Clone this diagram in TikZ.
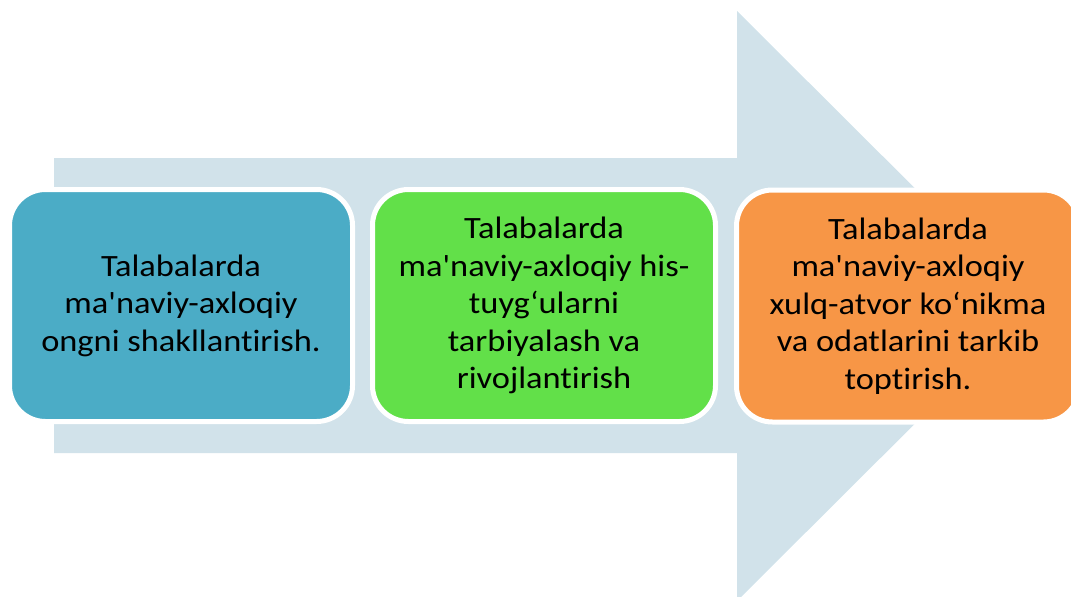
\documentclass[tikz,border=0pt]{standalone}
\usepackage{fontspec}
\newfontfamily\carl{Carlito}[Ligatures=NoCommon, FakeStretch=1.11]
\definecolor{arrowc}{HTML}{D1E2EA}
\definecolor{boxblue}{HTML}{4BACC6}
\definecolor{boxgreen}{HTML}{62E049}
\definecolor{boxorange}{HTML}{F79646}
\tikzset{
  stage/.style={rectangle, rounded corners=36pt, draw=white, line width=5pt,
    minimum width=343pt, minimum height=232pt, align=center,
    font=\carl\fontsize{31}{37.5}\selectfont, text=black, inner sep=0pt}
}
\begin{document}
\begin{tikzpicture}[x=1pt,y=-1pt]
\useasboundingbox (0,0) rectangle (1071,597);
\fill[arrowc] (54,158) -- (737,158) -- (737,11) -- (1033,306) -- (737,601) -- (737,453) -- (54,453) -- cycle;
\node[stage, fill=boxblue] (b1) at (181,305.5) {Talabalarda\\ma'naviy-axloqiy\\ongni shakllantirish.};
\node[stage, fill=boxgreen] (b2) at (544,305.5) {Talabalarda\\ma'naviy-axloqiy his-\\tuyg‘ularni\\tarbiyalash va\\rivojlantirish};
\node[stage, fill=boxorange] (b3) at (908,306) {Talabalarda\\ma'naviy-axloqiy\\xulq-atvor ko‘nikma\\va odatlarini tarkib\\toptirish.};
\end{tikzpicture}
\end{document}
